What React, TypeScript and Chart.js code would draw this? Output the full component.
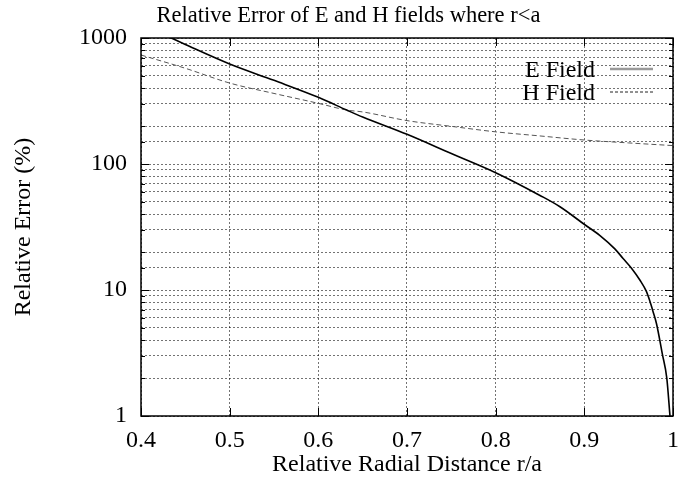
import React, { useEffect, useRef } from 'react';
import { Chart, registerables } from 'chart.js';

Chart.register(...registerables);

const TITLE = 'Relative Error of E and H fields where r<a';
const X_TITLE = 'Relative Radial Distance r/a';
const Y_TITLE = 'Relative Error (%)';
const SERIES_LABELS = ['E Field', 'H Field'];

// E field (solid)
const eR = [0.43, 0.45, 0.5, 0.55, 0.6, 0.632, 0.65, 0.7, 0.75, 0.8, 0.85, 0.8725, 0.901, 0.917, 0.9344, 0.9437, 0.9532, 0.9626, 0.9701, 0.9738, 0.9776, 0.9814, 0.988, 0.993, 0.9966];
const eErr = [1030, 888, 622, 461, 338, 268, 236, 172, 121, 85.3, 56.3, 45.8, 32.8, 27.3, 21.2, 17.8, 14.9, 12.0, 9.7, 8.2, 6.7, 5.4, 3.1, 2.0, 1.0];

// H field (dashed)
const hR = [0.4, 0.45, 0.5, 0.55, 0.6, 0.632, 0.65, 0.7, 0.75, 0.8, 0.85, 0.9, 0.95, 1.0];
const hErr = [733, 575, 439, 363, 303, 268, 259, 221, 199, 180, 167, 155, 147, 140];

const X_MIN = 0.4;
const X_MAX = 1;
const X_STEP = 0.1;
const Y_MIN = 1;
const Y_MAX = 1000;

const FONT = '"Liberation Serif", "Times New Roman", serif';
const FS = 24;
const FS_TITLE = 22.5;

const isDecade = (v: number) => {
  const l = Math.log10(v);
  return Math.abs(l - Math.round(l)) < 1e-6;
};

const framePlugin = {
  id: 'frameTicksLegend',
  afterDatasetsDraw(chart: any) {
    const { ctx, chartArea: a, scales } = chart;
    const xs = scales.x;
    const ys = scales.y;
    ctx.save();
    ctx.setLineDash([]);
    ctx.strokeStyle = '#000';
    ctx.lineWidth = 1;
    ctx.beginPath();
    for (const t of ys.ticks) {
      const p = Math.round(ys.getPixelForValue(t.value)) + 0.5;
      const len = isDecade(t.value) ? 8 : 4;
      ctx.moveTo(a.left, p);
      ctx.lineTo(a.left + len, p);
      ctx.moveTo(a.right, p);
      ctx.lineTo(a.right - len, p);
    }
    for (const t of xs.ticks) {
      const p = Math.round(xs.getPixelForValue(t.value)) + 0.5;
      ctx.moveTo(p, a.bottom);
      ctx.lineTo(p, a.bottom - 8);
      ctx.moveTo(p, a.top);
      ctx.lineTo(p, a.top + 8);
    }
    ctx.stroke();
    ctx.lineWidth = 1.5;
    ctx.strokeRect(a.left, a.top, a.right - a.left, a.bottom - a.top);

    // title
    ctx.font = `${FS_TITLE}px ${FONT}`;
    ctx.fillStyle = '#000';
    ctx.textAlign = 'center';
    ctx.textBaseline = 'alphabetic';
    ctx.fillText(TITLE, chart.width / 2 + 2.5, a.top - 16);

    // legend
    ctx.font = `${FS}px ${FONT}`;
    ctx.textAlign = 'right';
    const textRight = a.right - 78;
    const s0 = a.right - 63;
    const s1 = a.right - 20;
    const rows = [
      { label: SERIES_LABELS[0], base: a.top + 38.5, line: a.top + 31, color: '#9a9a9a', width: 2.5, dash: [] as number[] },
      { label: SERIES_LABELS[1], base: a.top + 61.5, line: a.top + 54, color: '#222', width: 1, dash: [3, 2] },
    ];
    for (const r of rows) {
      ctx.fillText(r.label, textRight, r.base);
      ctx.beginPath();
      ctx.strokeStyle = r.color;
      ctx.lineWidth = r.width;
      ctx.setLineDash(r.dash);
      ctx.moveTo(s0, r.line);
      ctx.lineTo(s1, r.line);
      ctx.stroke();
    }
    ctx.restore();
  },
};

export default function App() {
  const ref = useRef<HTMLCanvasElement | null>(null);
  useEffect(() => {
    if (!ref.current) return;
    const chart = new Chart(ref.current, {
      type: 'line',
      data: {
        datasets: [
          {
            label: SERIES_LABELS[0],
            data: eR.map((r, i) => ({ x: r, y: eErr[i] })),
            borderColor: '#000',
            borderWidth: 1.6,
            pointRadius: 0,
            cubicInterpolationMode: 'monotone',
            fill: false,
          },
          {
            label: SERIES_LABELS[1],
            data: hR.map((r, i) => ({ x: r, y: hErr[i] })),
            borderColor: '#555',
            borderWidth: 1,
            borderDash: [5, 3],
            pointRadius: 0,
            cubicInterpolationMode: 'monotone',
            fill: false,
          },
        ],
      },
      options: {
        responsive: false,
        animation: false,
        devicePixelRatio: 1,
        layout: { padding: { left: 0, right: 19, top: 38, bottom: 0 } },
        plugins: {
          legend: { display: false },
          tooltip: { enabled: false },
          title: { display: false },
        },
        scales: {
          x: {
            type: 'linear',
            min: X_MIN,
            max: X_MAX,
            afterFit: (s: any) => {
              s.height = 65;
            },
            ticks: {
              stepSize: X_STEP,
              color: '#000',
              padding: 10,
              maxRotation: 0,
              autoSkip: false,
              font: { family: FONT, size: FS },
              callback: (v: any) => String(Math.round(Number(v) * 10) / 10),
            },
            grid: { color: 'rgba(0,0,0,0.55)', lineWidth: 1, drawTicks: false },
            border: { display: false, dash: [2, 2] },
            title: {
              display: true,
              text: X_TITLE,
              color: '#000',
              font: { family: FONT, size: FS },
              padding: { top: 0, bottom: 1.6 },
            },
          },
          y: {
            type: 'logarithmic',
            min: Y_MIN,
            max: Y_MAX,
            afterFit: (s: any) => {
              s.width = 141;
            },
            ticks: {
              color: '#000',
              padding: 14,
              autoSkip: false,
              font: { family: FONT, size: FS },
              callback: (v: any) => (isDecade(Number(v)) ? String(Number(v)) : ''),
            },
            grid: { color: 'rgba(0,0,0,0.55)', lineWidth: 1, drawTicks: false },
            border: { display: false, dash: [2, 2] },
            title: {
              display: true,
              text: Y_TITLE,
              color: '#000',
              font: { family: FONT, size: FS },
              padding: { top: 9.6, bottom: 0 },
            },
          },
        },
      },
      plugins: [framePlugin],
    } as any);
    return () => chart.destroy();
  }, []);
  return (
    <div style={{ position: 'absolute', left: 0, top: 0, width: 692, height: 481, background: '#fff' }}>
      <canvas ref={ref} width={692} height={481} style={{ display: 'block' }} />
    </div>
  );
}
